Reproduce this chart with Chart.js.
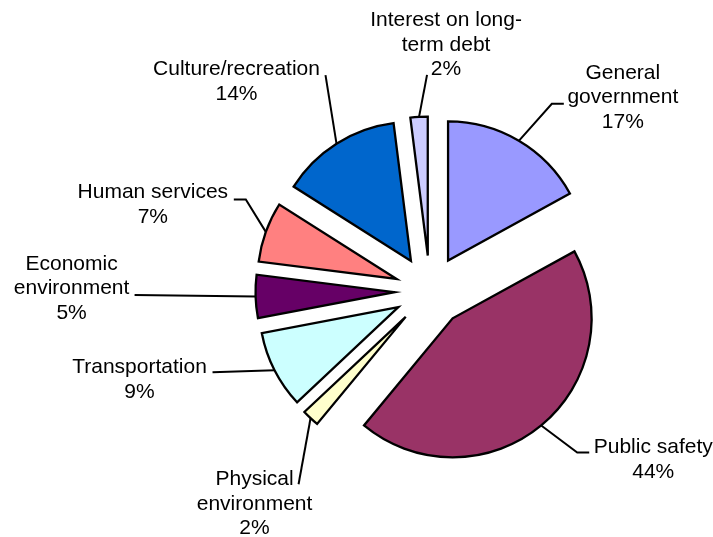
<!DOCTYPE html>
<html>
<head>
<meta charset="utf-8">
<script src="https://cdn.jsdelivr.net/npm/chart.js@4.4.1/dist/chart.umd.min.js"></script>
<style>
  html, body { margin: 0; padding: 0; background: #fff; }
  #wrap { width: 713px; height: 537px; }
</style>
</head>
<body>
<div id="wrap"><canvas id="expenseChart"></canvas></div>
<script>
// Categories (label lines), clockwise from 12 o'clock
const categories = [
  ["General", "government"],
  ["Public safety"],
  ["Physical", "environment"],
  ["Transportation"],
  ["Economic", "environment"],
  ["Human services"],
  ["Culture/recreation"],
  ["Interest on long-", "term debt"]
];
// Share of expenditures (%)
const shares = [17, 44, 2, 9, 5, 7, 14, 2];
const colors = ["#9999FF", "#993366", "#FFFFCC", "#CCFFFF", "#660066", "#FF8080", "#0066CC", "#CCCCFF"];

const EXPLODE = 35.5;   // distance each slice is pulled out
const LINE_H = 24.4;

// label position relative to the outer mid-point of its slice
// dx/dy: text centre / first baseline; sx/sy: leader start; elbow: horizontal leg
const labelPlace = [
  { dx: 104, dy: -62, sx: -59, sy: 25, elbow: -12 },
  { dx: 112, dy: 28, sx: -64, sy: -1, elbow: -12 },
  { dx: -56, dy: 67, sx: 44, sy: -1, elbow: 0 },
  { dx: -135, dy: 3, sx: 73, sy: -1, elbow: 0 },
  { dx: -184, dy: -26.5, sx: 63, sy: 25, elbow: 0 },
  { dx: -113, dy: -33.5, sx: 81, sy: 1, elbow: 12 },
  { dx: -100, dy: -68.5, sx: 89, sy: 0, elbow: 0 },
  { dx: 27, dy: -90.5, sx: -19, sy: 48.5, elbow: 0 }
];

// draw every arc pulled out along its mid angle
const explodePlugin = {
  id: "explode",
  beforeDatasetDraw(chart, args) {
    const ctx = chart.ctx;
    args.meta.data.forEach(arc => {
      const mid = (arc.startAngle + arc.endAngle) / 2;
      ctx.save();
      ctx.translate(Math.cos(mid) * EXPLODE, Math.sin(mid) * EXPLODE);
      arc.draw(ctx);
      ctx.restore();
    });
    return false;
  }
};

const labelPlugin = {
  id: "sliceLabels",
  afterDatasetsDraw(chart) {
    const ctx = chart.ctx;
    const meta = chart.getDatasetMeta(0);
    const total = shares.reduce((a, b) => a + b, 0);
    ctx.save();
    ctx.font = "21px 'Liberation Sans', Arial, sans-serif";
    ctx.fillStyle = "#000";
    ctx.strokeStyle = "#000";
    ctx.lineWidth = 2;
    ctx.textAlign = "center";
    ctx.textBaseline = "alphabetic";
    meta.data.forEach((arc, i) => {
      const mid = (arc.startAngle + arc.endAngle) / 2;
      const r = arc.outerRadius + EXPLODE;
      const ax = arc.x + Math.cos(mid) * r;
      const ay = arc.y + Math.sin(mid) * r;
      const p = labelPlace[i];
      const cx = ax + p.dx, by = ay + p.dy;
      const lines = categories[i].concat([Math.round(shares[i] / total * 100) + "%"]);
      lines.forEach((t, k) => ctx.fillText(t, cx, by + k * LINE_H));
      const sx = cx + p.sx, sy = by + p.sy;
      ctx.beginPath();
      ctx.moveTo(sx, sy);
      if (p.elbow) ctx.lineTo(sx + p.elbow, sy);
      ctx.lineTo(ax, ay);
      ctx.stroke();
    });
    ctx.restore();
  }
};

const ctx = document.getElementById("expenseChart").getContext("2d");
new Chart(ctx, {
  type: "pie",
  data: {
    labels: categories,
    datasets: [{
      data: shares,
      backgroundColor: colors,
      borderColor: "#000",
      borderWidth: 2.3,
      borderJoinStyle: "miter"
    }]
  },
  options: {
    responsive: true,
    maintainAspectRatio: false,
    animation: false,
    events: [],
    radius: 139,
    layout: { padding: { left: 147, right: 0, top: 45, bottom: 0 } },
    plugins: {
      legend: { display: false },
      tooltip: { enabled: false }
    }
  },
  plugins: [explodePlugin, labelPlugin]
});
</script>
</body>
</html>
